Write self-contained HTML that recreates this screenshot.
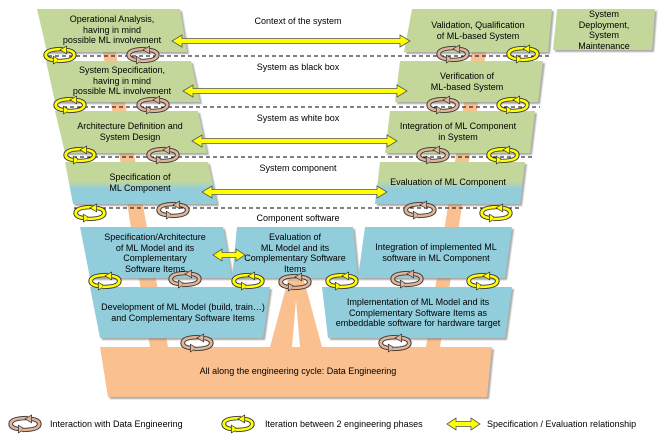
<!DOCTYPE html>
<html><head><meta charset="utf-8"><style>
html,body{margin:0;padding:0;background:#fff;}
svg{display:block;font-family:"Liberation Sans",sans-serif;}
text{font-size:9px;fill:#000;}
</style></head><body>
<svg width="661" height="438" viewBox="0 0 661 438" xmlns="http://www.w3.org/2000/svg">
<defs>
<linearGradient id="gb" x1="0" y1="0" x2="0" y2="1">
<stop offset="0.45" stop-color="#c4d79b"/><stop offset="0.65" stop-color="#92cddc"/></linearGradient>
<filter id="sh" x="-5%" y="-5%" width="115%" height="120%"><feDropShadow dx="2" dy="2" stdDeviation="0.8" flood-color="#888" flood-opacity="0.7"/></filter>
<g id="cyc"><g transform="scale(0.95,0.85)">
<path d="M3,-7 Q-15,-7 -15,0 Q-15,5 -6,6" fill="none" stroke="#333" stroke-width="5"/>
<path d="M3,-7 Q-15,-7 -15,0 Q-15,5 -6,6" fill="none" stroke="currentColor" stroke-width="3"/>
<polygon points="-7,1.5 0,6 -7,10.5" fill="currentColor" stroke="#333" stroke-width="0.8"/>
<path d="M-3,7 Q15,7 15,0 Q15,-5 6,-6" fill="none" stroke="#333" stroke-width="5"/>
<path d="M-3,7 Q15,7 15,0 Q15,-5 6,-6" fill="none" stroke="currentColor" stroke-width="3"/>
<polygon points="7,-10.5 0,-6 7,-1.5" fill="currentColor" stroke="#333" stroke-width="0.8"/>
</g></g>
</defs>

<g fill="#fac090">
<polygon points="103,52 116,52 168,347 150,347"/>
<polygon points="472,52 486,52 440,347 426,347"/>
<polygon points="288,280 304,280 322,347 300,347 296,300 292,347 270,347"/>
<polygon points="100,347 492,347 487,397 108,397" filter="url(#sh)"/>
</g>

<g stroke="#000" stroke-width="1" stroke-dasharray="4,3">
<line x1="48" y1="56" x2="552" y2="56"/>
<line x1="56" y1="107" x2="540" y2="107"/>
<line x1="66" y1="157" x2="532" y2="157"/>
<line x1="74" y1="208" x2="522" y2="208"/>
</g>

<g filter="url(#sh)">
<polygon points="37,9 180,9 187,52 47,52" fill="#c4d79b"/>
<polygon points="46,61 191,61 200,102 55,102" fill="#c4d79b"/>
<polygon points="55,111 198,111 207,153 65,153" fill="#c4d79b"/>
<polygon points="65,162 208,162 217,204 73,204" fill="url(#gb)"/>
<polygon points="412,9 552,9 548,52 404,52" fill="#c4d79b"/>
<polygon points="557,9 655,9 652,50 553,50" fill="#c4d79b"/>
<polygon points="400,61 543,61 538,102 395,102" fill="#c4d79b"/>
<polygon points="390,111 535,111 530,153 385,153" fill="#c4d79b"/>
<polygon points="380,162 525,162 520,204 375,204" fill="url(#gb)"/>
<polygon points="80,227 223,227 232,278 90,278" fill="#92cddc"/>
<polygon points="237,227 353,227 358,278 232,278" fill="#92cddc"/>
<polygon points="365,227 512,227 505,278 358,278" fill="#92cddc"/>
<polygon points="90,287 270,287 263,338 100,338" fill="#92cddc"/>
<polygon points="322,287 512,287 505,338 328,338" fill="#92cddc"/>
</g>

<g fill="#ffff00" stroke="#555" stroke-width="0.8">
<polygon points="172,41 182,35 182,38.5 400,38.5 400,35 410,41 400,47 400,43.5 182,43.5 182,47"/>
<polygon points="183,91 193,85 193,88.5 397,88.5 397,85 407,91 397,97 397,93.5 193,93.5 193,97"/>
<polygon points="192,141 202,135 202,138.5 387,138.5 387,135 397,141 387,147 387,143.5 202,143.5 202,147"/>
<polygon points="202,192 212,186 212,189.5 377,189.5 377,186 387,192 377,198 377,194.5 212,194.5 212,198"/>
<polygon points="213,255 222,249 222,252.5 236,252.5 236,249 245,255 236,261 236,257.5 222,257.5 222,261"/>
<polygon points="447,424 456,418 456,421.5 471,421.5 471,418 480,424 471,430 471,426.5 456,426.5 456,430"/>
</g>

<g color="#ffff00">
<use href="#cyc" x="60" y="55"/><use href="#cyc" x="523" y="54"/>
<use href="#cyc" x="70" y="105"/><use href="#cyc" x="513" y="105"/>
<use href="#cyc" x="80" y="155"/><use href="#cyc" x="503" y="155"/>
<use href="#cyc" x="90" y="213"/><use href="#cyc" x="496" y="213"/>
<use href="#cyc" x="105" y="281"/><use href="#cyc" x="248" y="281"/>
<use href="#cyc" x="342" y="281"/><use href="#cyc" x="483" y="281"/>
<use href="#cyc" x="238" y="424"/>
</g>
<g color="#e0b496">
<use href="#cyc" x="143" y="55"/><use href="#cyc" x="453" y="54"/>
<use href="#cyc" x="153" y="105"/><use href="#cyc" x="443" y="105"/>
<use href="#cyc" x="163" y="155"/><use href="#cyc" x="433" y="155"/>
<use href="#cyc" x="173" y="210"/><use href="#cyc" x="420" y="210"/>
<use href="#cyc" x="185" y="279"/><use href="#cyc" x="295" y="282"/>
<use href="#cyc" x="407" y="279"/>
<use href="#cyc" x="197" y="343"/><use href="#cyc" x="395" y="343"/>
<use href="#cyc" x="25" y="424"/>
</g>

<g text-anchor="middle">
<text x="112" y="22">Operational Analysis,</text>
<text x="112" y="33">having in mind</text>
<text x="112" y="43">possible ML involvement</text>
<text x="122" y="73">System Specification,</text>
<text x="122" y="84">having in mind</text>
<text x="122" y="94">possible ML involvement</text>
<text x="130" y="129">Architecture Definition and</text>
<text x="130" y="140">System Design</text>
<text x="140" y="180">Specification of</text>
<text x="140" y="191">ML Component</text>
<text x="478" y="28">Validation, Qualification</text>
<text x="478" y="39">of ML-based System</text>
<text x="604" y="17">System</text>
<text x="604" y="28">Deployment,</text>
<text x="604" y="38">System</text>
<text x="604" y="49">Maintenance</text>
<text x="467" y="79">Verification of</text>
<text x="467" y="90">ML-based System</text>
<text x="458" y="129">Integration of ML Component</text>
<text x="458" y="140">in System</text>
<text x="448" y="185">Evaluation of ML Component</text>
<text x="155" y="240">Specification/Architecture</text>
<text x="155" y="251">of ML Model and its</text>
<text x="155" y="261">Complementary</text>
<text x="155" y="272">Software Items</text>
<text x="295" y="240">Evaluation of</text>
<text x="295" y="251">ML Model and its</text>
<text x="295" y="261">Complementary Software</text>
<text x="295" y="272">Items</text>
<text x="436" y="250">Integration of implemented ML</text>
<text x="436" y="261">software in ML Component</text>
<text x="183" y="310">Development of ML Model (build, train…)</text>
<text x="183" y="321">and Complementary Software Items</text>
<text x="418" y="305">Implementation of ML Model and its</text>
<text x="418" y="316">Complementary Software Items as</text>
<text x="418" y="326">embeddable software for hardware target</text>
<text x="298" y="374">All along the engineering cycle: Data Engineering</text>
<text x="298" y="24">Context of the system</text>
<text x="298" y="70">System as black box</text>
<text x="298" y="121">System as white box</text>
<text x="298" y="171">System component</text>
<text x="298" y="221">Component software</text>
</g>
<text x="50" y="427">Interaction with Data Engineering</text>
<text x="265" y="427">Iteration between 2 engineering phases</text>
<text x="487" y="427">Specification / Evaluation relationship</text>
</svg>
</body></html>
